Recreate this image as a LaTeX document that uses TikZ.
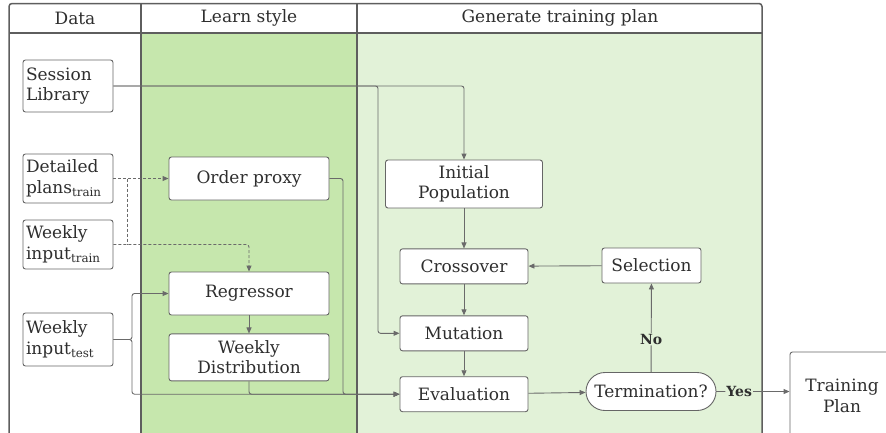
\documentclass[tikz,border=0pt]{standalone}
\usepackage{fontspec}
\setmainfont{DejaVu Serif}
\usetikzlibrary{arrows.meta,positioning}

\definecolor{learnfill}{HTML}{C6E7AD}
\definecolor{genfill}{HTML}{E2F2D8}
\definecolor{poolline}{HTML}{5E5E5E}
\definecolor{boxline}{HTML}{666666}
\definecolor{flowline}{HTML}{6A6A6A}
\definecolor{txt}{HTML}{2E2E2E}

\begin{document}
\begin{tikzpicture}[
    x=1pt, y=-1pt,
    every node/.style={text=txt, font=\fontsize{17}{20.5}\selectfont},
    pool/.style={draw=poolline, line width=1.5pt},
    box/.style={draw=boxline, line width=0.9pt, fill=white, rounded corners=2.5pt, align=center, inner sep=2pt},
    databox/.style={box, text width=84pt, inner xsep=3pt, align=left},
    flow/.style={draw=flowline, line width=0.9pt, rounded corners=2.5pt, -{Triangle[length=6pt,width=5pt]}},
    dashflow/.style={flow, dash pattern=on 3pt off 2pt},
    lbl/.style={font=\fontsize{14}{16}\selectfont\bfseries, fill=genfill, inner sep=1pt}
]
\useasboundingbox (0,0) rectangle (886,432);

% lanes
\fill[learnfill] (141,33) rectangle (357,445);
\fill[genfill] (357,33) rectangle (762,445);
\fill[white, rounded corners=3pt] (9,33) |- (762,3.5) -- (762,33) -- cycle;
\draw[pool, rounded corners=3pt] (9,445) |- (762,3.5) -- (762,445);
\draw[pool] (9,33) -- (762,33);
\draw[pool] (141,3.5) -- (141,445);
\draw[pool] (357,3.5) -- (357,445);

\node (hdata) at (75,18) {Data};
\node (hlearn) at (249,18) {Learn style};
\node (hgen) at (560,18) {Generate training plan};

% data
\node[databox, minimum height=52pt] (sess) at (68,86) {Session\\Library};
\node[databox, minimum height=49pt] (det) at (68,178.5) {Detailed\\plans\textsubscript{train}};
\node[databox, minimum height=49pt] (wtr) at (68,244.5) {Weekly\\input\textsubscript{train}};
\node[databox, minimum height=53pt] (wte) at (68,339.5) {Weekly\\input\textsubscript{test}};

% learn style
\node[box, minimum width=160pt, minimum height=43pt] (ord) at (249,178.5) {Order proxy};
\node[box, minimum width=160pt, minimum height=43pt] (reg) at (249,293.5) {Regressor};
\node[box, minimum width=160pt, minimum height=47pt, below=18pt of reg] (wd) {Weekly\\Distribution};

% generate training plan
\node[box, minimum width=157pt, minimum height=48pt] (init) at (464,184) {Initial\\Population};
\node[box, minimum width=128pt, minimum height=35pt, below=40pt of init] (cross) {Crossover};
\node[box, minimum width=128pt, minimum height=35pt, below=31pt of cross] (mut) {Mutation};
\node[box, minimum width=128pt, minimum height=35pt, below=25pt of mut] (eval) {Evaluation};
\node[box, minimum width=99pt, minimum height=35pt] (sel) at (651.5,265.5) {Selection};
\node[box, rounded corners=19pt, minimum width=130pt, minimum height=38pt, inner sep=1pt] (term) at (651,391.5) {Termination?};
\node[box, minimum width=104pt, minimum height=88pt] (plan) at (842,396) {Training\\Plan};

\coordinate (sbr) at (378,86);
\coordinate (dbr) at (127,178.5);
\coordinate (tbr) at (132,339.5);
\coordinate (obr) at (343,178.5);

\draw[flow] (sess.east) -| (init.north);
\draw[flow] (sess.east) -- (sbr) |- (mut.west);
\draw[dashflow] (det.east) -- (ord.west);
\draw[dashflow, -] (dbr) -- (dbr |- wtr.east);
\draw[dashflow] (wtr.east) -| (reg.north);
\draw[flow] (wte.east) -- (tbr) |- (reg.west);
\draw[flow] (wte.east) -- (tbr) |- (eval.west);
\draw[flow] (reg) -- (wd);
\draw[flow] (wd.south) |- (eval.west);
\draw[flow] (ord.east) -- (obr) |- (eval.west);

\draw[flow] (init) -- (cross);
\draw[flow] (cross) -- (mut);
\draw[flow] (mut) -- (eval);
\draw[flow] (eval) -- (term);
\draw[flow] (term) -- node[lbl, pos=0.37] {No} (sel);
\draw[flow] (sel) -- (cross);
\draw[flow] (term) -- node[lbl, pos=0.31] {Yes} (term -| plan.west);
\end{tikzpicture}
\end{document}
